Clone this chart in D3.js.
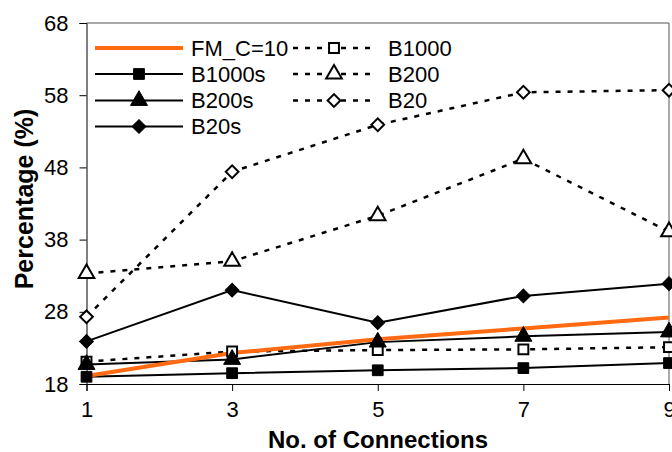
<!DOCTYPE html>
<html>
<head>
<meta charset="utf-8">
<script src="https://cdn.jsdelivr.net/npm/d3@7"></script>
<style>
  html, body { margin: 0; padding: 0; background: #fff; }
  svg { display: block; font-family: "Liberation Sans", Arial, sans-serif; }
</style>
</head>
<body>
<div id="chart"></div>
<script>
// values
const connections = [1, 3, 5, 7, 9];
const yTicks = [18, 28, 38, 48, 58, 68];
const fmC10 = [19.1, 22.3, 24.2, 25.7, 27.2];
const b1000 = [21.1, 22.5, 22.7, 22.8, 23.1];
const b1000s = [19.0, 19.5, 19.9, 20.2, 20.9];
const b200 = [33.3, 35.0, 41.3, 49.2, 39.1];
const b200s = [20.7, 21.4, 23.8, 24.6, 25.2];
const b20 = [27.3, 47.4, 53.9, 58.4, 58.7];
const b20s = [23.9, 31.0, 26.5, 30.2, 31.9];

const series = [
  { name: 'B1000', values: b1000, dash: '5,7', symbol: 'square', fill: false },
  { name: 'B200', values: b200, dash: '5,7', symbol: 'triangle', fill: false },
  { name: 'B20', values: b20, dash: '5,7', symbol: 'diamond', fill: false },
  { name: 'B1000s', values: b1000s, dash: null, symbol: 'square', fill: true },
  { name: 'B200s', values: b200s, dash: null, symbol: 'triangle', fill: true },
  { name: 'B20s', values: b20s, dash: null, symbol: 'diamond', fill: true },
  { name: 'FM_C=10', values: fmC10, dash: null, symbol: null, orange: true }
];

const W = 672, H = 452;
const svg = d3.select('#chart').append('svg')
  .attr('width', W)
  .attr('height', H);

const x = d3.scaleLinear().domain([1, 9]).range([86.5, 669]);
const y = d3.scaleLinear().domain([18, 68]).range([384, 23]);

// plot frame (top and right)
svg.append('path')
  .attr('d', `M${x(1)},${y(68)}H${x(9)}V${y(18)}`)
  .attr('fill', 'none')
  .attr('stroke', '#555')
  .attr('stroke-width', 1);

const yAxis = svg.append('g')
  .attr('transform', `translate(${x(1)},0)`)
  .call(d3.axisLeft(y).tickValues(yTicks).tickSize(7).tickPadding(11).tickFormat(d3.format('d')));

const xAxis = svg.append('g')
  .attr('transform', `translate(0,${y(18)})`)
  .call(d3.axisBottom(x).tickValues(connections).tickSize(7).tickPadding(10).tickFormat(d3.format('d')));

[xAxis, yAxis].forEach(a => {
  a.select('.domain').attr('stroke', '#000');
  a.selectAll('.tick line').attr('stroke', '#000');
  a.selectAll('text')
    .attr('fill', '#000')
    .style('font-size', '22px')
    .style('font-family', '"Liberation Sans", Arial, sans-serif');
});

svg.append('text')
  .attr('x', 378)
  .attr('y', 448)
  .attr('text-anchor', 'middle')
  .style('font-size', '24px')
  .style('font-weight', 'bold')
  .text('No. of Connections');

svg.append('text')
  .attr('transform', 'translate(33,199) rotate(-90)')
  .attr('text-anchor', 'middle')
  .style('font-size', '25px')
  .style('font-weight', 'bold')
  .text('Percentage (%)');

const line = d3.line()
  .x((d, i) => x(connections[i]))
  .y(d => y(d));

const symbolPath = (type, size) => {
  if (type === 'triangle') return d3.symbol(d3.symbolTriangle, size)();
  return d3.symbol(d3.symbolSquare, size)();
};
const symSize = { square: 115, triangle: 125, diamond: 95 };

const drawMarker = (g, s, cx, cy) => {
  g.append('path')
    .attr('d', symbolPath(s.symbol, s.fill ? symSize[s.symbol] : symSize[s.symbol] * 0.85))
    .attr('transform', `translate(${cx},${cy})` + (s.symbol === 'diamond' ? ' rotate(45)' : ''))
    .attr('stroke', '#000')
    .attr('stroke-width', s.fill ? 1 : 2)
    .attr('fill', s.fill ? '#000' : '#fff');
};

// lines
series.forEach(s => {
  svg.append('path')
    .datum(s.values)
    .attr('d', line)
    .attr('fill', 'none')
    .attr('stroke', s.orange ? '#ff6a13' : '#000')
    .attr('stroke-width', s.orange ? 4 : (s.dash ? 2.5 : 2))
    .attr('stroke-dasharray', s.dash);
});

// markers
series.filter(s => s.symbol).forEach(s => {
  const g = svg.append('g');
  s.values.forEach((v, i) => drawMarker(g, s, x(connections[i]), y(v)));
});

// legend
const legendRows = [
  { s: series[6], col: 0, row: 0 },
  { s: series[3], col: 0, row: 1 },
  { s: series[4], col: 0, row: 2 },
  { s: series[5], col: 0, row: 3 },
  { s: series[0], col: 1, row: 0 },
  { s: series[1], col: 1, row: 1 },
  { s: series[2], col: 1, row: 2 }
];
const colX = [{ x0: 95, x1: 183, tx: 191 }, { x0: 293, x1: 375, tx: 388 }];
const rowY = [48, 74, 100.5, 126.5];

const legend = svg.append('g');
legendRows.forEach(r => {
  const c = colX[r.col], ly = rowY[r.row], s = r.s;
  legend.append('line')
    .attr('x1', c.x0).attr('x2', c.x1)
    .attr('y1', ly).attr('y2', ly)
    .attr('stroke', s.orange ? '#ff6a13' : '#000')
    .attr('stroke-width', s.orange ? 4 : (s.dash ? 2.5 : 2))
    .attr('stroke-dasharray', s.dash);
  if (s.symbol) drawMarker(legend, s, (c.x0 + c.x1) / 2, ly);
  legend.append('text')
    .attr('x', c.tx)
    .attr('y', ly)
    .attr('dy', '0.36em')
    .style('font-size', '22px')
    .text(s.name);
});
</script>
</body>
</html>
